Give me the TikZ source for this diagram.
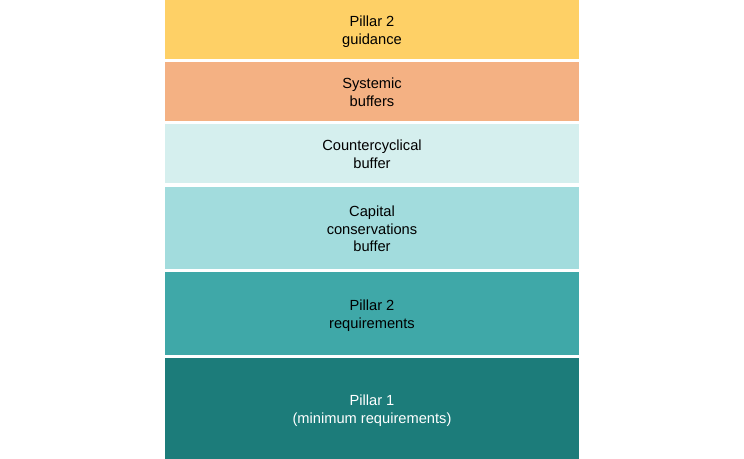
\documentclass[tikz,border=0pt]{standalone}
\usepackage{fontspec}
\setmainfont{Liberation Sans}
\definecolor{guidcol}{HTML}{FED066}
\definecolor{syscol}{HTML}{F4B183}
\definecolor{ccybcol}{HTML}{D5EFEE}
\definecolor{conscol}{HTML}{A2DCDD}
\definecolor{ptwocol}{HTML}{3FA8A8}
\definecolor{ponecol}{HTML}{1C7C7A}
\newcommand{\ltext}[1]{\rule{0pt}{11.5pt}#1\rule[-2.4pt]{0pt}{2.4pt}}
\tikzset{
  layer/.style={rectangle, inner sep=0pt, minimum width=310.5pt, align=center,
    font=\fontsize{11}{13.3}\selectfont},
}
\begin{document}
\begin{tikzpicture}[x=0.75pt,y=-0.75pt]
\useasboundingbox (0,0) rectangle (744,459);
\node[layer, fill=guidcol, minimum height=44.25pt] (guid) at (372,29.5) {\ltext{Pillar 2\\guidance}};
\node[layer, fill=syscol, minimum height=44.25pt] (sys) at (372,91.5) {\ltext{Systemic\\buffers}};
\node[layer, fill=ccybcol, minimum height=44.25pt] (ccyb) at (372,153.5) {\ltext{Countercyclical\\buffer}};
\node[layer, fill=conscol, minimum height=61.5pt] (cons) at (372,228) {\ltext{Capital\\conservations\\buffer}};
\node[layer, fill=ptwocol, minimum height=62.25pt] (ptwo) at (372,313.5) {\ltext{Pillar 2\\requirements}};
\node[layer, fill=ponecol, minimum height=75.75pt, text=white] (pone) at (372,408.5) {\ltext{Pillar 1\\(minimum requirements)}};
\end{tikzpicture}
\end{document}
